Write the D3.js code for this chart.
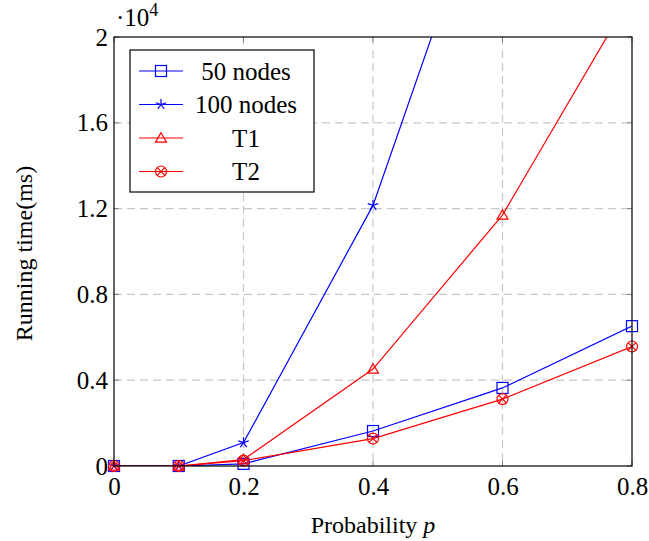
<!DOCTYPE html>
<html>
<head>
<meta charset="utf-8">
<script src="https://cdn.jsdelivr.net/npm/d3@7"></script>
<style>
  body { margin: 0; background: #fff; }
  svg text { font-family: "Liberation Serif", "Times New Roman", serif; fill: #000; }
</style>
</head>
<body>
<svg id="chart" width="649" height="541"></svg>
<script>
// probability values on x
const probs = [0, 0.1, 0.2, 0.4, 0.6, 0.8];
// running times in units of 10^4 ms
const nodes50 = [0, 0, 0.01, 0.163, 0.364, 0.652];
const nodes100 = [0, 0, 0.109, 1.215, 2.95];
const t1 = [0, 0, 0.03, 0.452, 1.17, 2.2];
const t2 = [0, 0, 0.025, 0.128, 0.312, 0.557];

const xTicks = [0, 0.2, 0.4, 0.6, 0.8];
const yTicks = [0, 0.4, 0.8, 1.2, 1.6, 2];

const seriesNames = ["50 nodes", "100 nodes", "T1", "T2"];

const series = [
    { name: seriesNames[0], values: nodes50, color: "#0000ff", marker: "square" },
    { name: seriesNames[1], values: nodes100, color: "#0000ff", marker: "star" },
    { name: seriesNames[2], values: t1, color: "#ff0000", marker: "triangle" },
    { name: seriesNames[3], values: t2, color: "#ff0000", marker: "otimes" }
];

const FONT = "'Liberation Serif', 'Times New Roman', serif";

const margin = { top: 37, left: 114, right: 17, bottom: 75 };
const width = 649 - margin.left - margin.right;
const height = 541 - margin.top - margin.bottom;

const svg = d3.select("#chart");
const chart = svg.append("g").attr("transform", `translate(${margin.left},${margin.top})`);

const xScale = d3.scaleLinear().domain([0, 0.8]).range([0, width]);
const yScale = d3.scaleLinear().domain([0, 2]).range([height, 0]);

// dashed grid
chart.append("g").selectAll("line")
    .data(xTicks.slice(1, -1))
    .join("line")
    .attr("x1", d => xScale(d)).attr("x2", d => xScale(d))
    .attr("y1", 0).attr("y2", height)
    .attr("stroke", "#c8c8c8").attr("stroke-width", 1.2)
    .attr("stroke-dasharray", "8,5");

chart.append("g").selectAll("line")
    .data(yTicks.slice(1, -1))
    .join("line")
    .attr("y1", d => yScale(d)).attr("y2", d => yScale(d))
    .attr("x1", 0).attr("x2", width)
    .attr("stroke", "#c8c8c8").attr("stroke-width", 1.2)
    .attr("stroke-dasharray", "8,5");

// axes with labels only
const xAxis = d3.axisBottom(xScale).tickValues(xTicks).tickSize(0).tickPadding(11)
    .tickFormat(d => d === 0 ? "0" : d3.format(".1f")(d));
const yAxis = d3.axisLeft(yScale).tickValues(yTicks).tickSize(0).tickPadding(6)
    .tickFormat(d => (d === 0 || d === 2) ? String(d) : d3.format(".1f")(d));

const xAxisG = chart.append("g").attr("transform", `translate(0,${height})`).call(xAxis);
const yAxisG = chart.append("g").call(yAxis);
[xAxisG, yAxisG].forEach(g => {
    g.attr("font-family", FONT).attr("font-size", 25);
    g.select(".domain").remove();
    g.selectAll("text").attr("fill", "#000");
});
xAxisG.selectAll("text").attr("dy", "0.71em");

// small tick marks inside the box
const tickLen = 5;
const tickG = chart.append("g").attr("stroke", "#808080").attr("stroke-width", 1);
xTicks.forEach(d => {
    tickG.append("line").attr("x1", xScale(d)).attr("x2", xScale(d)).attr("y1", height).attr("y2", height - tickLen);
    tickG.append("line").attr("x1", xScale(d)).attr("x2", xScale(d)).attr("y1", 0).attr("y2", tickLen);
});
yTicks.forEach(d => {
    tickG.append("line").attr("y1", yScale(d)).attr("y2", yScale(d)).attr("x1", 0).attr("x2", tickLen);
    tickG.append("line").attr("y1", yScale(d)).attr("y2", yScale(d)).attr("x1", width).attr("x2", width - tickLen);
});

// clip region
svg.append("defs").append("clipPath").attr("id", "clip")
    .append("rect").attr("x", 0).attr("y", 0).attr("width", width).attr("height", height);

function drawMarker(g, type, color, size) {
    const s = size;
    if (type === "square") {
        g.append("rect").attr("x", -s).attr("y", -s).attr("width", 2 * s).attr("height", 2 * s)
            .attr("fill", "none").attr("stroke", color).attr("stroke-width", 1.2);
    } else if (type === "star") {
        for (let i = 0; i < 5; i++) {
            const a = -Math.PI / 2 + i * 2 * Math.PI / 5;
            g.append("line").attr("x1", 0).attr("y1", 0)
                .attr("x2", s * Math.cos(a)).attr("y2", s * Math.sin(a))
                .attr("stroke", color).attr("stroke-width", 1.2);
        }
    } else if (type === "triangle") {
        const r = s * 1.15;
        const pts = [0, 1, 2].map(i => {
            const a = -Math.PI / 2 + i * 2 * Math.PI / 3;
            return [r * Math.cos(a), r * Math.sin(a) + 1];
        });
        g.append("polygon").attr("points", pts.map(p => p.join(",")).join(" "))
            .attr("fill", "none").attr("stroke", color).attr("stroke-width", 1.2);
    } else if (type === "otimes") {
        g.append("circle").attr("r", s).attr("fill", "none").attr("stroke", color).attr("stroke-width", 1.2);
        const d = s * Math.SQRT1_2;
        g.append("line").attr("x1", -d).attr("y1", -d).attr("x2", d).attr("y2", d)
            .attr("stroke", color).attr("stroke-width", 1.2);
        g.append("line").attr("x1", -d).attr("y1", d).attr("x2", d).attr("y2", -d)
            .attr("stroke", color).attr("stroke-width", 1.2);
    }
}

const plot = chart.append("g").attr("clip-path", "url(#clip)");
const line = d3.line().x(d => xScale(d[0])).y(d => yScale(d[1]));

series.forEach(s => {
    const pts = s.values.map((v, i) => [probs[i], v]);
    plot.append("path")
        .datum(pts)
        .attr("fill", "none")
        .attr("stroke", s.color)
        .attr("stroke-width", 1.2)
        .attr("d", line);
});

// markers (points above the y range are skipped)
const markerLayer = chart.append("g");
series.forEach(s => {
    s.values.forEach((v, i) => {
        if (v > 2) return;
        const g = markerLayer.append("g")
            .attr("transform", `translate(${xScale(probs[i])},${yScale(v)})`);
        drawMarker(g, s.marker, s.color, 5.5);
    });
});

// axis box
chart.append("rect").attr("x", 0).attr("y", 0).attr("width", width).attr("height", height)
    .attr("fill", "none").attr("stroke", "#000").attr("stroke-width", 1.2);

// scale label
const sc = svg.append("text").attr("x", margin.left + 2).attr("y", 26)
    .attr("font-family", FONT).attr("font-size", 25);
sc.append("tspan").text("\u00b710");
sc.append("tspan").attr("dy", -10).attr("font-size", 18).text("4");

// axis titles
svg.append("text")
    .attr("x", margin.left + width / 2).attr("y", 533)
    .attr("text-anchor", "middle").attr("font-family", FONT).attr("font-size", 24)
    .call(t => {
        t.append("tspan").text("Probability ");
        t.append("tspan").attr("font-style", "italic").text("p");
    });

svg.append("text")
    .attr("transform", `translate(32,${margin.top + height / 2 + 2}) rotate(-90)`)
    .attr("text-anchor", "middle").attr("font-family", FONT).attr("font-size", 24)
    .text("Running time(ms)");

// legend
const legend = svg.append("g").attr("transform", "translate(130,50)");
legend.append("rect").attr("x", 0).attr("y", 0).attr("width", 184).attr("height", 142)
    .attr("fill", "#fff").attr("stroke", "#000").attr("stroke-width", 1.2);
series.forEach((s, i) => {
    const y = 21 + i * 33.5;
    legend.append("line").attr("x1", 9).attr("x2", 53).attr("y1", y).attr("y2", y)
        .attr("stroke", s.color).attr("stroke-width", 1.2);
    const g = legend.append("g").attr("transform", `translate(31,${y})`);
    drawMarker(g, s.marker, s.color, 5.5);
    legend.append("text").attr("x", 116).attr("y", y).attr("dy", "0.35em")
        .attr("text-anchor", "middle").attr("font-family", FONT).attr("font-size", 25)
        .text(s.name);
});
</script>
</body>
</html>
